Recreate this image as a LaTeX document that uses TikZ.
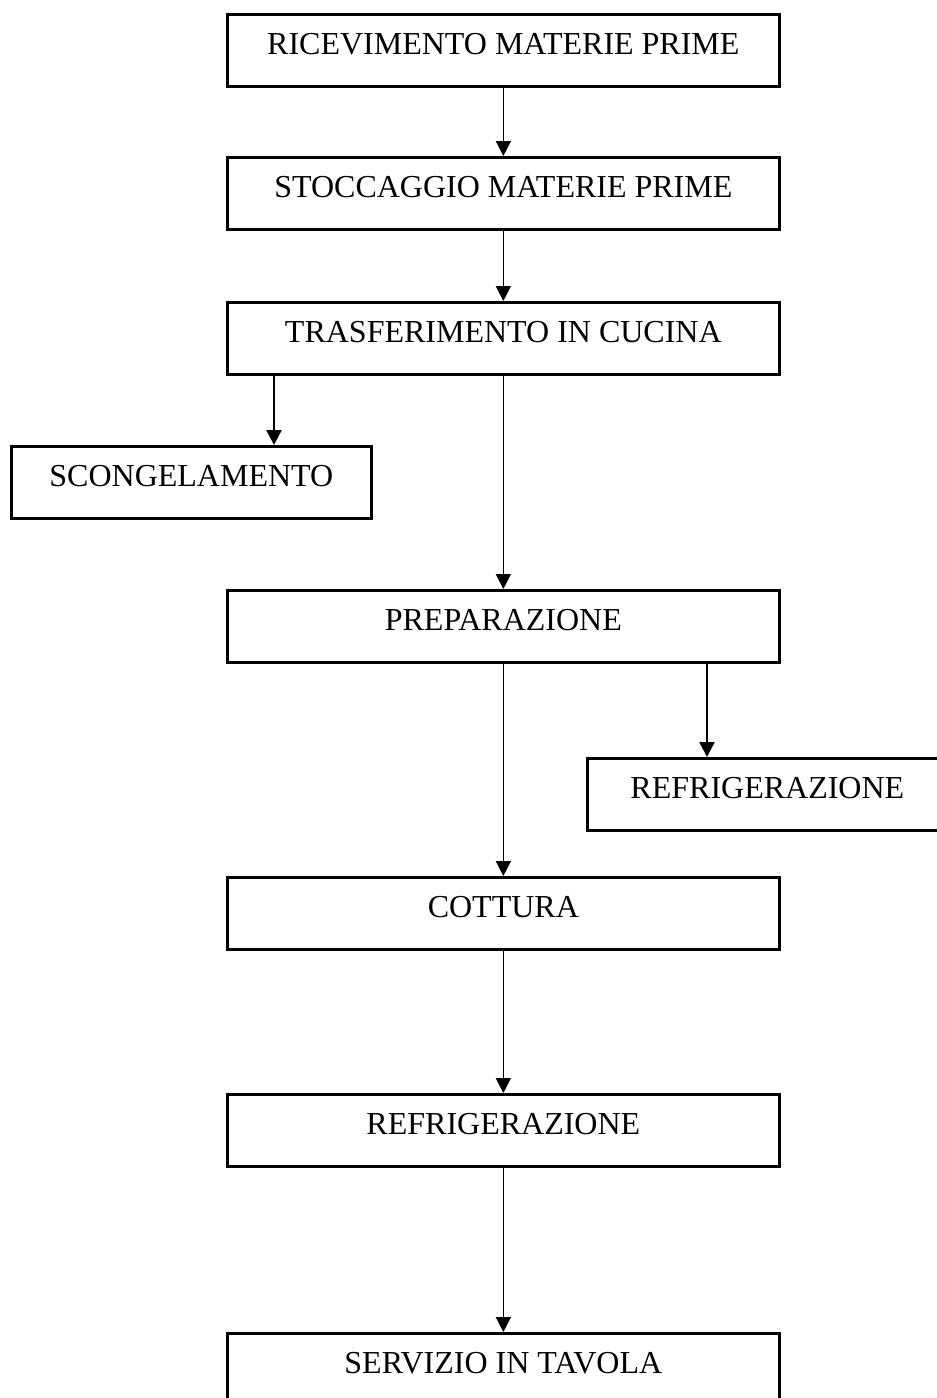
\documentclass[tikz,border=0pt]{standalone}
\usepackage{fontspec}
\setmainfont{Liberation Serif}
\usetikzlibrary{arrows.meta}
\begin{document}
\begin{tikzpicture}[x=1pt,y=-1pt,
  flowbox/.style={draw, line width=2.7pt, rectangle, anchor=north west,
    minimum height=72pt, text height=21pt, text depth=13pt,
    inner ysep=19pt, inner xsep=4pt,
    font=\fontsize{32}{38}\selectfont},
  mainbox/.style={flowbox, minimum width=552pt},
  sidebox/.style={flowbox, minimum width=360pt},
  thinarr/.style={line width=1.7pt, -{Triangle[width=15pt,length=15pt]}},
  thickarr/.style={line width=2.5pt, -{Triangle[width=15pt,length=15pt]}}]
\useasboundingbox (0,0) rectangle (937,1398);
\clip (0,0) rectangle (937,1398);

\node[mainbox] (b1) at (226,13) {RICEVIMENTO MATERIE PRIME};
\node[mainbox] (b2) at (226,156) {STOCCAGGIO MATERIE PRIME};
\node[mainbox] (b3) at (226,301) {TRASFERIMENTO IN CUCINA};
\node[sidebox] (sc) at (10,445) {SCONGELAMENTO};
\node[mainbox] (b4) at (226,589) {PREPARAZIONE};
\node[sidebox, minimum width=372pt] (rr) at (586,757) {REFRIGERAZIONE\hspace*{12pt}};
\node[mainbox] (b5) at (226,876) {COTTURA};
\node[mainbox] (b6) at (226,1093) {REFRIGERAZIONE};
\node[mainbox] (b7) at (226,1332) {SERVIZIO IN TAVOLA};

\draw[thinarr] (b1.south) -- (b2.north);
\draw[thinarr] (b2.south) -- (b3.north);
\draw[thickarr] ([xshift=48pt]b3.south west) -- ([xshift=264pt]sc.north west);
\draw[thinarr] (b3.south) -- (b4.north);
\draw[thickarr] ([xshift=481pt]b4.south west) -- ([xshift=121pt]rr.north west);
\draw[thinarr] (b4.south) -- (b5.north);
\draw[thinarr] (b5.south) -- (b6.north);
\draw[thinarr] (b6.south) -- (b7.north);
\end{tikzpicture}
\end{document}
